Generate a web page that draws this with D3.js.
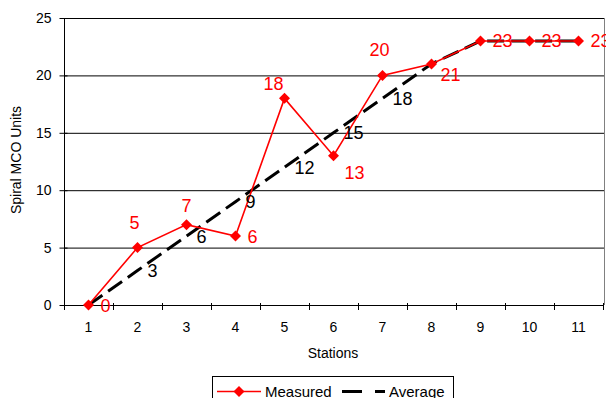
<!DOCTYPE html>
<html><head><meta charset="utf-8">
<script src="https://cdn.jsdelivr.net/npm/d3@7"></script>
<style>body{margin:0;background:#fff;} svg{display:block;font-family:"Liberation Sans",Arial,sans-serif;}</style>
</head><body><svg id="c" width="606" height="398"></svg>
<script>
const stations = ["1","2","3","4","5","6","7","8","9","10","11"];
const measured = [0,5,7,6,18,13,20,21,23,23,23];
const average = [0,3,6,9,12,15,18,21,23,23,23];
const yTicks = [0,5,10,15,20,25];
// label placement keywords (styling, not data)
const measuredLabelPlace = ["right","highabove","above","right","aboveleft","below","highabove","belowright","right","right","right"];

const FONT = '"Liberation Sans",Arial,sans-serif';
const svg = d3.select("#c");
const m = {l:64, t:18, r:604, b:305};
const x = d3.scaleBand().domain(stations).range([m.l, m.l+11*49]);
const y = d3.scaleLinear().domain([0,25]).range([m.b, m.t]);
const cx = d => x(d) + x.bandwidth()/2;

// grid
svg.append("g").selectAll("line").data(yTicks.filter(v=>v>0)).join("line")
  .attr("x1", m.l).attr("x2", m.r).attr("y1", d=>y(d)+0.5).attr("y2", d=>y(d)+0.5)
  .attr("stroke", "#000").attr("stroke-width", 1);
// right border
svg.append("line").attr("x1", m.r+0.5).attr("x2", m.r+0.5).attr("y1", m.t).attr("y2", m.b)
  .attr("stroke", "#808080");

// axes
const yAxis = svg.append("g").attr("transform", `translate(${m.l+0.5},0)`)
  .call(d3.axisLeft(y).tickValues(yTicks).tickSize(5).tickPadding(8));
yAxis.selectAll(".tick line").attr("x1", 3);
const xAxis = svg.append("g").attr("transform", `translate(0,${m.b+0.5})`)
  .call(d3.axisBottom(x).tickSize(0).tickPadding(17));
[yAxis, xAxis].forEach(g => {
  g.select(".domain").attr("stroke", "#000");
  g.selectAll("text").attr("font-size", 14).attr("fill", "#000").attr("font-family", FONT);
  g.selectAll(".tick line").attr("stroke", "#000");
});
yAxis.select(".domain").attr("d", `M0,${m.t}V${m.b}`);
xAxis.select(".domain").attr("d", `M${m.l},0H${m.r}`);
// x tick marks at band boundaries
const bounds = stations.map(s => x(s)).concat([x(stations[stations.length-1]) + x.bandwidth()]);
svg.append("g").selectAll("line").data(bounds).join("line")
  .attr("x1", d => d + 0.5).attr("x2", d => d + 0.5)
  .attr("y1", m.b-2).attr("y2", m.b+5).attr("stroke", "#000");

// titles
svg.append("text").attr("transform", `translate(21,160) rotate(-90)`)
  .attr("text-anchor", "middle").attr("font-size", 14).text("Spiral MCO Units");
svg.append("text").attr("x", 333).attr("y", 358).attr("text-anchor", "middle")
  .attr("font-size", 14).text("Stations");

const line = d3.line().x((d,i)=>cx(stations[i])).y(d=>y(d));
// average
svg.append("path").datum(average).attr("d", line).attr("fill", "none")
  .attr("stroke", "#000").attr("stroke-width", 3).attr("stroke-dasharray", "17,7");
// measured
svg.append("path").datum(measured).attr("d", line).attr("fill", "none")
  .attr("stroke", "#ff0000").attr("stroke-width", 1.6);
svg.append("g").selectAll("path").data(measured).join("path")
  .attr("d", "M0,-5.5L5.5,0L0,5.5L-5.5,0Z").attr("fill", "#ff0000")
  .attr("transform", (d,i)=>`translate(${cx(stations[i])},${y(d)})`);

// average labels (hidden where they coincide with measured labels)
svg.append("g").selectAll("text").data(average.map((v,i)=>({v,i})).filter(d=>d.v!==measured[d.i])).join("text")
  .attr("x", d=>cx(stations[d.i]) + 10).attr("y", d=>y(d.v) + 6.5)
  .attr("font-size", 18).attr("fill", "#000").text(d=>d.v);
// measured labels
const off = {
  right:[12,6.5,"start"], above:[0,-13,"middle"], highabove:[-3,-19,"middle"],
  aboveleft:[-11,-8.5,"middle"], below:[11,23,"start"], belowright:[9,17.5,"start"]
};
svg.append("g").selectAll("text").data(measured).join("text")
  .attr("x", (d,i)=>cx(stations[i]) + off[measuredLabelPlace[i]][0])
  .attr("y", (d,i)=>y(d) + off[measuredLabelPlace[i]][1])
  .attr("text-anchor", (d,i)=>off[measuredLabelPlace[i]][2])
  .attr("font-size", 18).attr("fill", "#ff0000").text(d=>d);

// legend
const lg = svg.append("g");
lg.append("rect").attr("x", 212.5).attr("y", 376.5).attr("width", 241).attr("height", 30)
  .attr("fill", "#fff").attr("stroke", "#000");
lg.append("line").attr("x1", 217).attr("x2", 261).attr("y1", 391.5).attr("y2", 391.5)
  .attr("stroke", "#ff0000").attr("stroke-width", 1.6);
lg.append("path").attr("d", "M0,-5.5L5.5,0L0,5.5L-5.5,0Z").attr("fill", "#ff0000").attr("transform", "translate(239,391.5)");
lg.append("text").attr("x", 265).attr("y", 396.5).attr("font-size", 15).text("Measured");
lg.append("line").attr("x1", 342).attr("x2", 385).attr("y1", 391.5).attr("y2", 391.5)
  .attr("stroke", "#000").attr("stroke-width", 3).attr("stroke-dasharray", "20,13");
lg.append("text").attr("x", 389).attr("y", 396.5).attr("font-size", 15).text("Average");
</script></body></html>
